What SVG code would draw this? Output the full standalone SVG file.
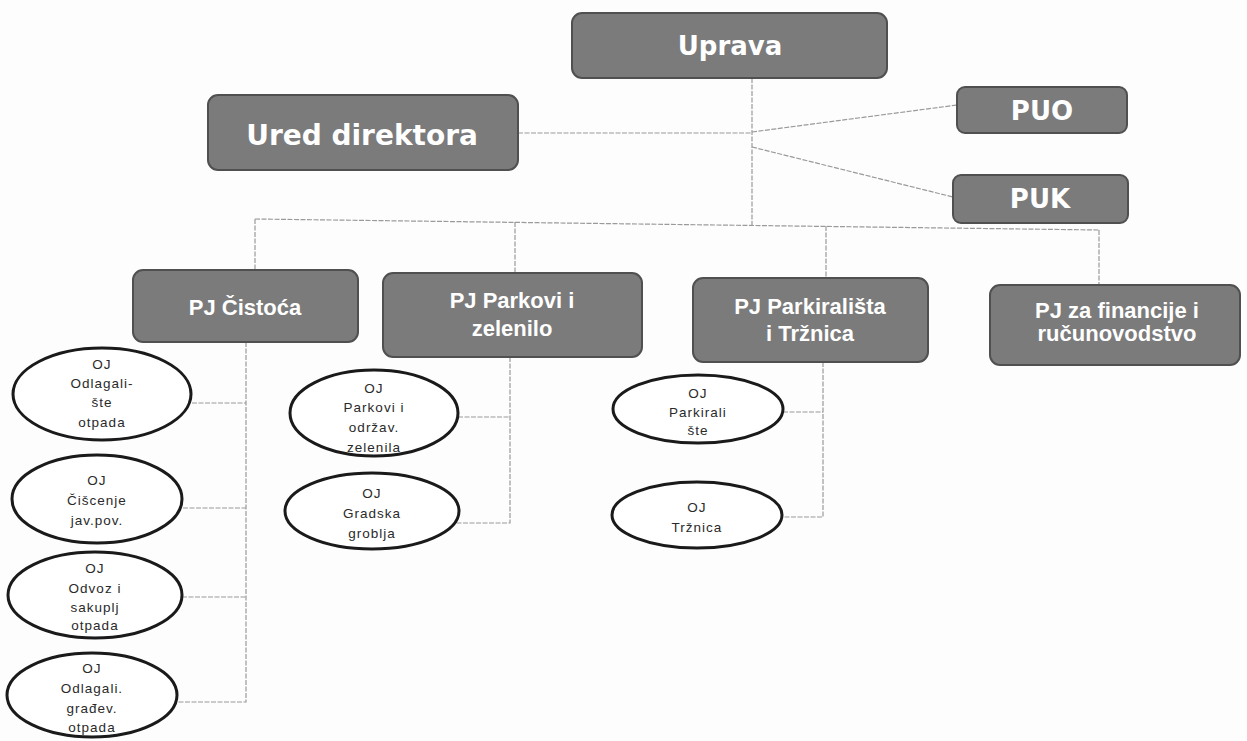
<svg xmlns="http://www.w3.org/2000/svg" width="1247" height="741" viewBox="0 0 1247 741">
  <style>
    .box { fill: #7b7b7b; stroke: #505050; stroke-width: 2; }
    .tTop { font-family: "DejaVu Sans", "Liberation Sans", sans-serif; font-weight: bold; fill: #ffffff; text-anchor: middle; }
    .tPJ { font-family: "Liberation Sans", Arial, sans-serif; font-weight: bold; font-size: 22px; fill: #ffffff; text-anchor: middle; }
    .ell { fill: #ffffff; stroke: #1a1a1a; stroke-width: 3; }
    .tOJ { font-family: "Liberation Sans", Arial, sans-serif; font-size: 13.5px; letter-spacing: 1px; fill: #2a2a2a; text-anchor: middle; }
    .conn { fill: none; stroke: #9a9a9a; stroke-width: 1.2; stroke-dasharray: 5 1.5; }
  </style>
  <rect width="1247" height="741" fill="#fdfdfd"/>

  <g id="connectors">
    <line class="conn" x1="752" y1="78" x2="752" y2="226"/>
    <line class="conn" x1="518" y1="133" x2="752" y2="133"/>
    <line class="conn" x1="752" y1="132" x2="957" y2="105"/>
    <line class="conn" x1="752" y1="147" x2="953" y2="197"/>
    <line class="conn" x1="255" y1="219" x2="1099" y2="230"/>
    <line class="conn" x1="255" y1="219" x2="255" y2="270"/>
    <line class="conn" x1="515" y1="222" x2="515" y2="273"/>
    <line class="conn" x1="826" y1="226" x2="826" y2="278"/>
    <line class="conn" x1="1099" y1="230" x2="1099" y2="285"/>
    <polyline class="conn" points="246,342 246,702 177,702"/>
    <line class="conn" x1="192" y1="403" x2="246" y2="403"/>
    <line class="conn" x1="183" y1="508" x2="246" y2="508"/>
    <line class="conn" x1="182" y1="597" x2="246" y2="597"/>
    <polyline class="conn" points="510,357 510,523 457,523"/>
    <line class="conn" x1="458" y1="417" x2="510" y2="417"/>
    <polyline class="conn" points="823,362 823,517 782,517"/>
    <line class="conn" x1="783" y1="412" x2="823" y2="412"/>
  </g>

  <g id="uprava">
    <rect class="box" x="572" y="13" width="315" height="65" rx="10"/>
    <text class="tTop" x="730" y="55" font-size="26">Uprava</text>
  </g>
  <g id="ured-direktora">
    <rect class="box" x="208" y="95" width="310" height="75" rx="10"/>
    <text class="tTop" x="362" y="145" font-size="28">Ured direktora</text>
  </g>
  <g id="puo">
    <rect class="box" x="957" y="87" width="170" height="46" rx="8"/>
    <text class="tTop" x="1042" y="120" font-size="26">PUO</text>
  </g>
  <g id="puk">
    <rect class="box" x="953" y="175" width="175" height="48" rx="8"/>
    <text class="tTop" x="1040" y="208" font-size="26">PUK</text>
  </g>

  <g id="pj-cistoca">
    <rect class="box" x="133" y="270" width="225" height="72" rx="10"/>
    <text class="tPJ" x="245" y="315">PJ Čistoća</text>
  </g>
  <g id="pj-parkovi">
    <rect class="box" x="383" y="273" width="259" height="84" rx="10"/>
    <text class="tPJ" x="512" y="308">PJ Parkovi i</text>
    <text class="tPJ" x="512" y="336">zelenilo</text>
  </g>
  <g id="pj-parkiralista">
    <rect class="box" x="693" y="278" width="235" height="84" rx="10"/>
    <text class="tPJ" x="810" y="314">PJ Parkirališta</text>
    <text class="tPJ" x="810" y="341">i Tržnica</text>
  </g>
  <g id="pj-financije">
    <rect class="box" x="990" y="285" width="250" height="80" rx="10"/>
    <text class="tPJ" x="1117" y="318">PJ za financije i</text>
    <text class="tPJ" x="1117" y="341">ručunovodstvo</text>
  </g>

  <g id="oj-odlagaliste">
    <ellipse class="ell" cx="102" cy="394" rx="89" ry="46"/>
    <text class="tOJ" x="102" y="369">OJ</text>
    <text class="tOJ" x="102" y="388">Odlagali-</text>
    <text class="tOJ" x="102" y="407">šte</text>
    <text class="tOJ" x="102" y="427">otpada</text>
  </g>
  <g id="oj-ciscenje">
    <ellipse class="ell" cx="97" cy="499" rx="85" ry="44"/>
    <text class="tOJ" x="97" y="485">OJ</text>
    <text class="tOJ" x="97" y="505">Čišcenje</text>
    <text class="tOJ" x="97" y="525">jav.pov.</text>
  </g>
  <g id="oj-odvoz">
    <ellipse class="ell" cx="95" cy="595" rx="87" ry="43"/>
    <text class="tOJ" x="95" y="573">OJ</text>
    <text class="tOJ" x="95" y="593">Odvoz i</text>
    <text class="tOJ" x="95" y="612">sakuplj</text>
    <text class="tOJ" x="95" y="630">otpada</text>
  </g>
  <g id="oj-odlagaliste-gradjevinskog">
    <ellipse class="ell" cx="92" cy="695" rx="85" ry="42"/>
    <text class="tOJ" x="92" y="673">OJ</text>
    <text class="tOJ" x="92" y="693">Odlagali.</text>
    <text class="tOJ" x="92" y="713">građev.</text>
    <text class="tOJ" x="92" y="732">otpada</text>
  </g>
  <g id="oj-parkovi">
    <ellipse class="ell" cx="374" cy="413" rx="84" ry="43"/>
    <text class="tOJ" x="374" y="393">OJ</text>
    <text class="tOJ" x="374" y="412">Parkovi i</text>
    <text class="tOJ" x="374" y="432">održav.</text>
    <text class="tOJ" x="374" y="452">zelenila</text>
  </g>
  <g id="oj-gradska-groblja">
    <ellipse class="ell" cx="372" cy="511" rx="87" ry="38"/>
    <text class="tOJ" x="372" y="498">OJ</text>
    <text class="tOJ" x="372" y="518">Gradska</text>
    <text class="tOJ" x="372" y="538">groblja</text>
  </g>
  <g id="oj-parkiraliste">
    <ellipse class="ell" cx="698" cy="409" rx="85" ry="34"/>
    <text class="tOJ" x="698" y="398">OJ</text>
    <text class="tOJ" x="698" y="417">Parkirali</text>
    <text class="tOJ" x="698" y="435">šte</text>
  </g>
  <g id="oj-trznica">
    <ellipse class="ell" cx="697" cy="515" rx="85" ry="33"/>
    <text class="tOJ" x="697" y="512">OJ</text>
    <text class="tOJ" x="697" y="532">Tržnica</text>
  </g>
</svg>
